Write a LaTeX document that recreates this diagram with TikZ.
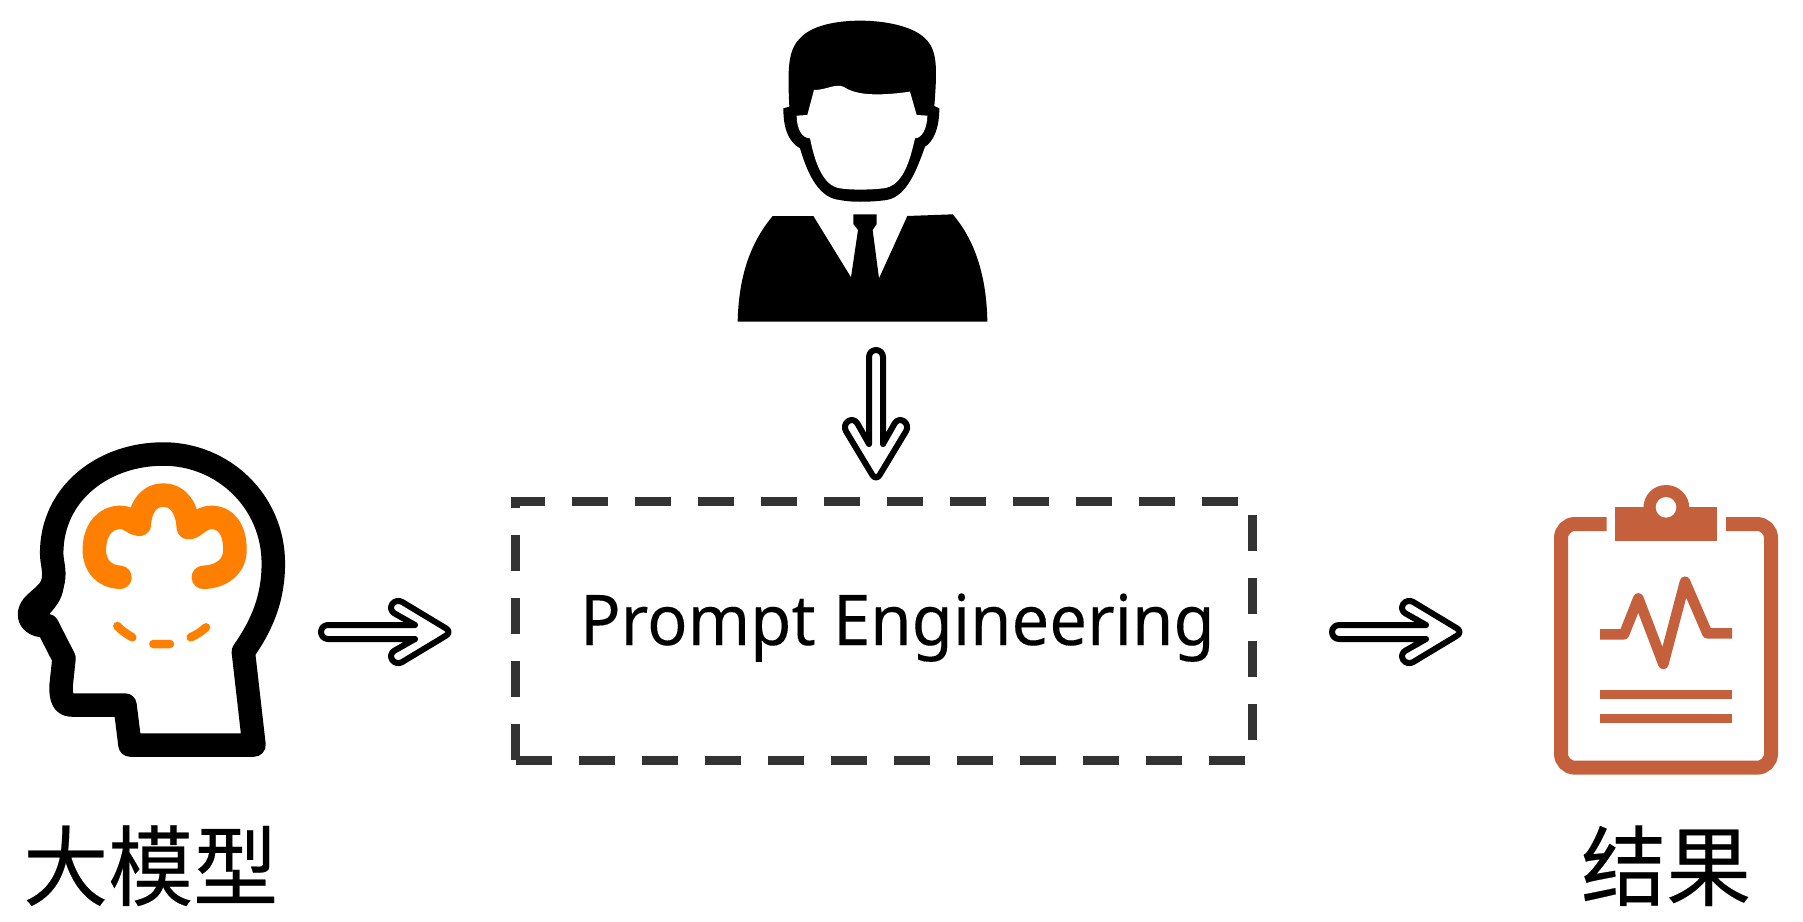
\documentclass[tikz,border=0pt]{standalone}
\usepackage{fontspec}
\setmainfont[FakeBold=0.12]{Noto Sans}
\newfontfamily\cjkfont[FakeBold=0.25]{Noto Sans CJK SC}
\definecolor{brainorange}{HTML}{FF8000}
\definecolor{clipred}{HTML}{C5603D}
\definecolor{dashgray}{HTML}{333333}
\tikzset{
  blockarrow/.style={line width=6pt,line join=round,line cap=round,draw=black,
    to path={{[shift={(\tikztostart)},rotate=#1,rounded corners=7pt]
      (97,-7) -- (3,-7) -- (3,7) -- (97,7)
      (97,7) -- (70.3,22.1) -- (78.1,33.7) -- (134,0) -- (78.1,-33.7) -- (70.3,-22.1) -- (97,-7)}}},
  cjklabel/.style={inner sep=0pt,anchor=base west,font=\cjkfont\fontsize{85}{85}\selectfont},
  promptlabel/.style={inner sep=0pt,anchor=base west,font=\fontsize{70}{70}\selectfont},
}
\begin{document}
\begin{tikzpicture}[x=1pt,y=-1pt]
\useasboundingbox (0,0) rectangle (1803,921);
\fill[white] (0,0) rectangle (1803,921);

% dashed box
\node[inner sep=0pt,minimum width=736pt,minimum height=258pt] (box) at (884,631) {};
\draw[dashgray,line width=9pt,dash pattern=on 36pt off 27pt]
  (box.south west) -- (box.north west) -- (box.north east) -- (box.south east) -- cycle;
\node[promptlabel] (prompt) at (580,645) {\scalebox{0.957}[1]{Prompt Engineering}};

% head
\begin{scope}[shift={(0,430)},x=0.33333pt,y=-0.33333pt]
  \draw[line width=23.5pt,line join=round]
    (762,945) -- (730,665)
    .. controls (790,580) and (820,500) .. (820,400)
    .. controls (820,215) and (670,72) .. (490,72)
    .. controls (310,72) and (155,190) .. (155,370)
    .. controls (155,395) and (165,420) .. (160,450)
    .. controls (155,485) and (125,500) .. (100,526)
    .. controls (78,550) and (85,590) .. (142,587)
    -- (192,685) -- (183,770)
    .. controls (183,805) and (190,825) .. (215,825)
    -- (375,825) -- (390,945) -- cycle;
  \fill (160,450) -- (192,455) .. controls (192,500) and (172,525) .. (148,552)
    -- (105,560) -- (100,526) -- cycle;
  \draw[brainorange,line width=23.5pt,line cap=round,line join=round]
    (360,442) .. controls (315,440) and (283,410) .. (283,360)
    .. controls (283,295) and (320,262) .. (360,262)
    .. controls (390,262) and (400,283) .. (418,283)
    .. controls (420,235) and (445,195) .. (490,195)
    .. controls (535,195) and (562,235) .. (565,293)
    .. controls (585,293) and (600,262) .. (635,262)
    .. controls (675,262) and (705,295) .. (705,360)
    .. controls (705,410) and (665,440) .. (610,442);
  \draw[brainorange,line width=8.5pt,line cap=round]
    (352,588) .. controls (365,602) and (380,612) .. (397,622)
    (460,642) -- (510,642)
    (572,622) .. controls (590,614) and (605,604) .. (618,592);
\end{scope}
\node[cjklabel] (model) at (23,899) {\scalebox{1}[1.03]{大模型}};

% person
\begin{scope}[shift={(700,0)},x=0.33333pt,y=-0.33333pt]
  \fill[black]
    (480,62) .. controls (400,62) and (330,80) .. (300,115)
    .. controls (265,150) and (262,200) .. (268,320)
    -- (250,325)
    .. controls (250,385) and (265,425) .. (300,445)
    .. controls (325,530) and (360,595) .. (420,600)
    .. controls (450,607) and (510,607) .. (560,600)
    .. controls (620,590) and (650,510) .. (675,440)
    .. controls (700,425) and (718,385) .. (718,325)
    -- (703,318)
    .. controls (712,200) and (712,150) .. (675,115)
    .. controls (640,80) and (560,62) .. (480,62) -- cycle;
  \fill[white]
    (342,270) .. controls (380,270) and (405,250) .. (430,260)
    .. controls (460,280) and (510,292) .. (630,275)
    -- (650,345) -- (682,347)
    .. controls (682,385) and (665,415) .. (645,415)
    .. controls (630,480) and (610,558) .. (550,565)
    .. controls (510,570) and (450,570) .. (420,565)
    .. controls (370,558) and (345,490) .. (330,415)
    .. controls (305,415) and (290,385) .. (290,347)
    -- (322,345) -- cycle;
  \fill[black]
    (113,965) .. controls (116,830) and (150,730) .. (218,648)
    -- (340,648) -- (453,832) -- (474,690) -- (460,672) -- (460,643)
    -- (530,643) -- (530,672) -- (518,690) -- (537,835) -- (622,648)
    -- (758,643) .. controls (825,720) and (860,830) .. (862,965) -- cycle;
\end{scope}

% clipboard
\begin{scope}[shift={(1500,470)},x=0.33333pt,y=-0.33333pt]
  \draw[clipred,line width=14pt,rounded corners=14pt]
    (320,162) -- (183,162) -- (183,893) -- (813,893) -- (813,162) -- (678,162);
  \fill[clipred] (345,110) rectangle (652,212);
  \fill[clipred] (430,115) .. controls (430,75) and (460,45) .. (498,45)
    .. controls (536,45) and (568,75) .. (568,115) -- cycle;
  \fill[white] (498,112) circle (10.3pt);
  \draw[clipred,line width=10.5pt,line join=round]
    (300,493) -- (372,493) -- (415,385) -- (490,582) -- (555,335) -- (622,490) -- (696,490);
  \fill[clipred] (300,660) rectangle (696,688);
  \fill[clipred] (300,732) rectangle (696,760);
\end{scope}
\node[cjklabel] (result) at (1581,899) {\scalebox{1}[1.03]{结果}};

% arrows
\coordinate (a1) at (318,632);
\coordinate (a2) at (452,632);
\coordinate (b1) at (1329,632);
\coordinate (b2) at (1463,632);
\coordinate (c1) at (876,347);
\coordinate (c2) at (876,480);
\draw[blockarrow=0] (a1) to (a2);
\draw[blockarrow=0] (b1) to (b2);
\draw[blockarrow=-90] (c1) to (c2);
\end{tikzpicture}
\end{document}
